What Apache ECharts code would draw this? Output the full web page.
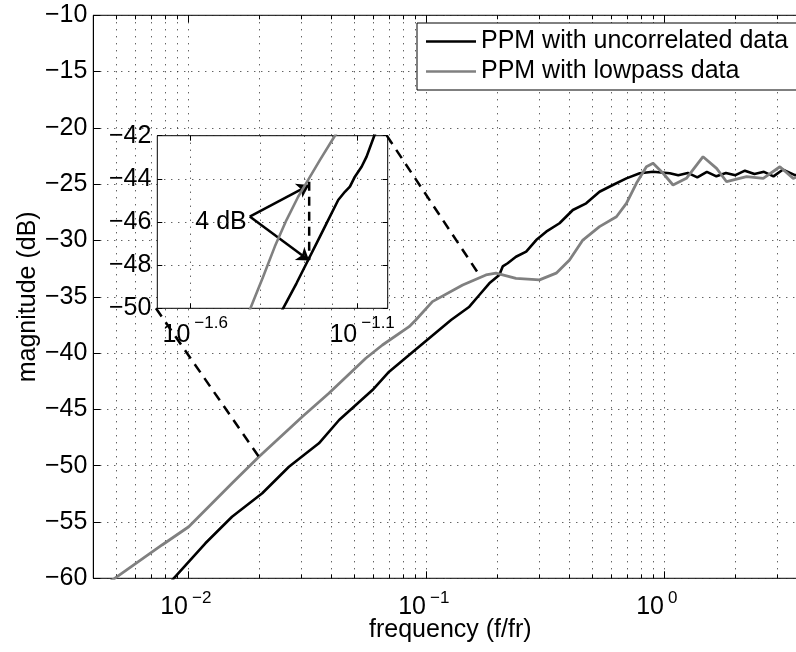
<!DOCTYPE html>
<html>
<head>
<meta charset="utf-8">
<script src="https://cdn.jsdelivr.net/npm/echarts@6.0.0/dist/echarts.min.js"></script>
<style>
  html, body { margin: 0; padding: 0; background: #fff; }
  #chart { width: 796px; height: 652px; }
</style>
</head>
<body>
<div id="chart"></div>
<script>
// main plot: frequency (f/fr) and magnitude (dB)
const uncorrFreq = [0.0083, 0.00871, 0.01183, 0.01531, 0.02051, 0.02655, 0.03548, 0.04315, 0.0507, 0.05957,
  0.06998, 0.08492, 0.1274, 0.1521, 0.1675, 0.1845, 0.2032, 0.21, 0.2203, 0.2388, 0.2636, 0.2904, 0.3199,
  0.3639, 0.414, 0.471, 0.5358, 0.6095, 0.695, 0.7907, 0.8995, 1.057, 1.148, 1.259, 1.38, 1.514, 1.66,
  1.82, 1.995, 2.188, 2.399, 2.63, 2.884, 3.162, 3.548, 3.981];
const uncorrMag = [-60.6, -60, -56.89, -54.53, -52.45, -50.09, -48.01, -45.94, -44.61, -43.28,
  -41.65, -40.17, -37.06, -35.88, -34.84, -33.8, -33.06, -32.3, -32.02, -31.44, -30.99, -29.96, -29.22,
  -28.47, -27.29, -26.7, -25.67, -25.07, -24.48, -24.03, -23.89, -24.03, -24.2, -24.0, -24.4, -23.9, -24.3,
  -24.0, -24.2, -23.8, -24.1, -23.9, -24.3, -23.7, -24.2, -24.0];

const lowpassFreq = [0.00447, 0.00492, 0.00778, 0.01007, 0.01531, 0.01986, 0.0302, 0.03908, 0.05585, 0.06561,
  0.08492, 0.09057, 0.1064, 0.1426, 0.1786, 0.1968, 0.2388, 0.2999, 0.3524, 0.4009, 0.456, 0.5358,
  0.631, 0.695, 0.7656, 0.8433, 0.8995, 0.9908, 1.091, 1.242, 1.459, 1.663, 1.832, 2.223, 2.612,
  3.069, 3.491, 4.0];
const lowpassMag = [-60.6, -60, -57.04, -55.42, -51.56, -49.2, -45.65, -43.57, -40.46, -39.28,
  -37.65, -37.06, -35.43, -33.95, -33.06, -32.9, -33.36, -33.5, -32.9, -31.73, -29.96, -28.77,
  -27.89, -26.7, -24.92, -23.45, -23.14, -24.03, -25.07, -24.48, -22.56, -23.59, -24.78, -24.33, -24.48,
  -23.45, -24.48, -24.0];

// zoomed inset
const insetUncorrFreq = [0.04624, 0.04764, 0.05224, 0.05662, 0.05998, 0.06427, 0.06966, 0.07295, 0.07551,
  0.07816, 0.08185, 0.08472, 0.08933, 0.0912];
const insetUncorrMag = [-50.4, -50, -48.84, -47.76, -46.99, -46.06, -44.98, -44.6, -44.36,
  -43.9, -43.44, -42.97, -42.0, -41.7];
const insetLowpassFreq = [0.03631, 0.03802, 0.0415, 0.04498, 0.04875, 0.05284, 0.05662, 0.06138, 0.06808, 0.06998];
const insetLowpassMag = [-50.7, -50, -48.54, -47.14, -45.91, -44.83, -44.05, -43.13, -42.0, -41.7];

// 4 dB annotation (inset coordinates)
const gapFreq = 0.05702;
const gapMag = [-44.13, -47.76];
const arrowFrom = [0.03784, -45.75];
const arrowTo = [[0.05702, -44.29], [0.05702, -47.79]];
const gapLabelAt = [0.03784, -45.99];

// dashed lines joining the inset to the main plot (main coordinates)
const connectorA = [[0.06844, -20.69], [0.1675, -33.06]];
const connectorB = [[0.007333, -36.02], [0.01984, -49.2]];

// axes
const xMin = 0.004, xMax = 4;
const majorFreqs = [0.01, 0.1, 1];
const insetXMin = 0.02, insetXMax = 0.098;
const insetTickExps = [-1.6, -1.1];
const insetGridFreqs = [0.02512, 0.04055, 0.05495, 0.06699, 0.07943];

const minorFreqs = [];
for (let n = -3; n <= 0; n++) {
  for (let k = 1; k <= 9; k++) {
    const v = Number((k * Math.pow(10, n)).toPrecision(3));
    if (v >= xMin && v <= xMax) minorFreqs.push(v);
  }
}
const insetTicks = insetTickExps.map(e => Math.pow(10, e));

const FONT = '"Liberation Sans", Arial, Helvetica, sans-serif';
const dotted = { color: '#222', width: 1, type: [1, 6] };
const ink = { color: '#000', width: 1 };

function pairs(xs, ys) { return xs.map((x, i) => [x, ys[i]]); }
function minus(v) { return v < 0 ? '\u2212' + Math.abs(v) : String(v); }
function expLabel(digits) {
  return v => minus(Number(Math.log10(v).toFixed(digits)));
}
// "10" part and the raised exponent of the power-of-ten tick labels
const baseLabel = { show: true, formatter: () => '10', align: 'right', fontFamily: FONT, fontSize: 25, lineHeight: 26, color: '#000' };
const expStyle = { show: true, align: 'left', padding: [0, 0, 0, 4], fontFamily: FONT, fontSize: 17, lineHeight: 18, color: '#000' };

function tickAxis(base, extra) {
  return Object.assign({
    axisLine: { show: false },
    axisLabel: { show: false },
    splitLine: { show: false },
    axisTick: { show: false }
  }, base, extra);
}
const mainXBase = { type: 'log', logBase: 10, gridIndex: 0, min: xMin, max: xMax, z: 1 };
const insetXBase = { type: 'log', logBase: 10, gridIndex: 1, min: insetXMin, max: insetXMax, z: 6 };

const chart = echarts.init(document.getElementById('chart'));

chart.setOption({
  animation: false,
  backgroundColor: '#fff',
  grid: [
    { left: 93.3, top: 15.3, right: -11.3, bottom: 73.7, show: true, borderColor: '#000', borderWidth: 1,
      backgroundColor: '#fff', z: 0, outerBoundsMode: 'none', containLabel: false },
    { left: 157.3, top: 135.7, width: 230.4, height: 172.6, show: true, borderColor: '#000', borderWidth: 1,
      backgroundColor: '#fff', z: 5, outerBoundsMode: 'none', containLabel: false }
  ],
  legend: {
    data: ['PPM with uncorrelated data', 'PPM with lowpass data'],
    orient: 'vertical',
    left: 417,
    top: 23,
    icon: 'rect',
    itemWidth: 50,
    itemHeight: 2.5,
    itemGap: 5,
    padding: [6, 14, 6, 9],
    borderColor: '#000',
    borderWidth: 1,
    borderRadius: 0,
    backgroundColor: '#fff',
    selectedMode: false,
    z: 10,
    textStyle: { fontFamily: FONT, fontSize: 25, lineHeight: 25, color: '#000' }
  },
  xAxis: [
    tickAxis(mainXBase, {
      position: 'bottom',
      axisTick: { show: true, inside: true, length: 4, customValues: minorFreqs, lineStyle: ink },
      splitLine: { show: true, lineStyle: dotted },
      axisLabel: Object.assign({ customValues: majorFreqs, margin: 16 }, baseLabel),
      name: 'frequency (f/fr)',
      nameLocation: 'middle',
      nameGap: 39,
      nameMoveOverlap: false,
      nameTextStyle: { fontFamily: FONT, fontSize: 25, color: '#000' }
    }),
    tickAxis(mainXBase, {
      position: 'bottom',
      axisTick: { show: true, inside: true, length: 7, customValues: majorFreqs, lineStyle: ink },
      axisLabel: Object.assign({ customValues: majorFreqs, margin: 11, formatter: expLabel(0) }, expStyle)
    }),
    tickAxis(mainXBase, { position: 'top', axisTick: { show: true, inside: true, length: 4, customValues: minorFreqs, lineStyle: ink } }),
    tickAxis(mainXBase, { position: 'top', axisTick: { show: true, inside: true, length: 7, customValues: majorFreqs, lineStyle: ink } }),
    // inset: dotted vertical grid and the "10" part of the labels
    tickAxis(insetXBase, {
      position: 'bottom',
      axisTick: { show: true, inside: true, length: 0, customValues: insetGridFreqs, lineStyle: ink },
      splitLine: { show: true, lineStyle: dotted },
      axisLabel: Object.assign({ customValues: insetTicks, margin: 14 }, baseLabel)
    }),
    tickAxis(insetXBase, { position: 'top', axisTick: { show: true, inside: true, length: 5, customValues: insetTicks, lineStyle: ink } }),
    tickAxis(insetXBase, {
      position: 'bottom',
      axisTick: { show: true, inside: true, length: 5, customValues: insetTicks, lineStyle: ink },
      axisLabel: Object.assign({ customValues: insetTicks, margin: 6, formatter: expLabel(1) }, expStyle)
    })
  ],
  yAxis: [
    {
      type: 'value', gridIndex: 0, position: 'left', min: -60, max: -10, interval: 5, z: 1,
      axisLine: { show: true, lineStyle: ink },
      axisTick: { show: true, inside: true, length: 7, lineStyle: ink },
      splitLine: { show: true, lineStyle: dotted },
      axisLabel: { margin: 6, formatter: minus, fontFamily: FONT, fontSize: 25, color: '#000' },
      name: 'magnitude (dB)',
      nameLocation: 'middle',
      nameGap: 53,
      nameRotate: 90,
      nameMoveOverlap: false,
      nameTextStyle: { fontFamily: FONT, fontSize: 25, color: '#000' }
    },
    {
      type: 'value', gridIndex: 1, position: 'left', min: -50, max: -42, interval: 2, z: 6,
      axisLine: { show: false },
      axisTick: { show: true, inside: true, length: 5, lineStyle: ink },
      splitLine: { show: true, lineStyle: dotted },
      axisLabel: { margin: 6, formatter: minus, fontFamily: FONT, fontSize: 25, color: '#000' }
    },
    {
      type: 'value', gridIndex: 1, position: 'right', min: -50, max: -42, interval: 2, z: 6,
      axisLine: { show: false },
      axisTick: { show: true, inside: true, length: 5, lineStyle: ink },
      splitLine: { show: false },
      axisLabel: { show: false }
    }
  ],
  series: [
    {
      name: 'PPM with uncorrelated data', type: 'line', xAxisIndex: 0, yAxisIndex: 0,
      data: pairs(uncorrFreq, uncorrMag), symbol: 'none', silent: true, z: 3,
      lineStyle: { color: '#000', width: 2.6 }, itemStyle: { color: '#000' }
    },
    {
      name: 'PPM with lowpass data', type: 'line', xAxisIndex: 0, yAxisIndex: 0,
      data: pairs(lowpassFreq, lowpassMag), symbol: 'none', silent: true, z: 3,
      lineStyle: { color: '#808080', width: 2.8 }, itemStyle: { color: '#808080' }
    },
    {
      name: 'inset lowpass', type: 'line', xAxisIndex: 4, yAxisIndex: 1,
      data: pairs(insetLowpassFreq, insetLowpassMag), symbol: 'none', silent: true, z: 7,
      lineStyle: { color: '#808080', width: 2.6 }
    },
    {
      name: 'inset uncorrelated', type: 'line', xAxisIndex: 4, yAxisIndex: 1,
      data: pairs(insetUncorrFreq, insetUncorrMag), symbol: 'none', silent: true, z: 7,
      lineStyle: { color: '#000', width: 2.6 }
    },
    {
      name: '4 dB gap', type: 'line', xAxisIndex: 4, yAxisIndex: 1,
      data: gapMag.map(m => [gapFreq, m]), symbol: 'none', silent: true, z: 8,
      lineStyle: { color: '#000', width: 2.5, type: [9, 6] },
      markLine: {
        silent: true, animation: false,
        symbol: ['none', 'arrow'], symbolSize: 12,
        label: { show: false },
        lineStyle: { color: '#000', width: 2.5, type: 'solid' },
        data: arrowTo.map(p => [{ coord: arrowFrom }, { coord: p }])
      },
      markPoint: {
        silent: true, animation: false,
        symbol: 'circle', symbolSize: 0,
        data: [{ coord: gapLabelAt }],
        label: { show: true, position: 'left', distance: 3, formatter: '4 dB',
          fontFamily: FONT, fontSize: 25, color: '#000' }
      }
    },
    {
      name: 'connector A', type: 'line', xAxisIndex: 0, yAxisIndex: 0,
      data: connectorA, symbol: 'none', silent: true, z: 9, clip: false,
      lineStyle: { color: '#000', width: 2.5, type: [10, 7] }
    },
    {
      name: 'connector B', type: 'line', xAxisIndex: 0, yAxisIndex: 0,
      data: connectorB, symbol: 'none', silent: true, z: 9, clip: false,
      lineStyle: { color: '#000', width: 2.5, type: [10, 7] }
    }
  ]
});
</script>
</body>
</html>
